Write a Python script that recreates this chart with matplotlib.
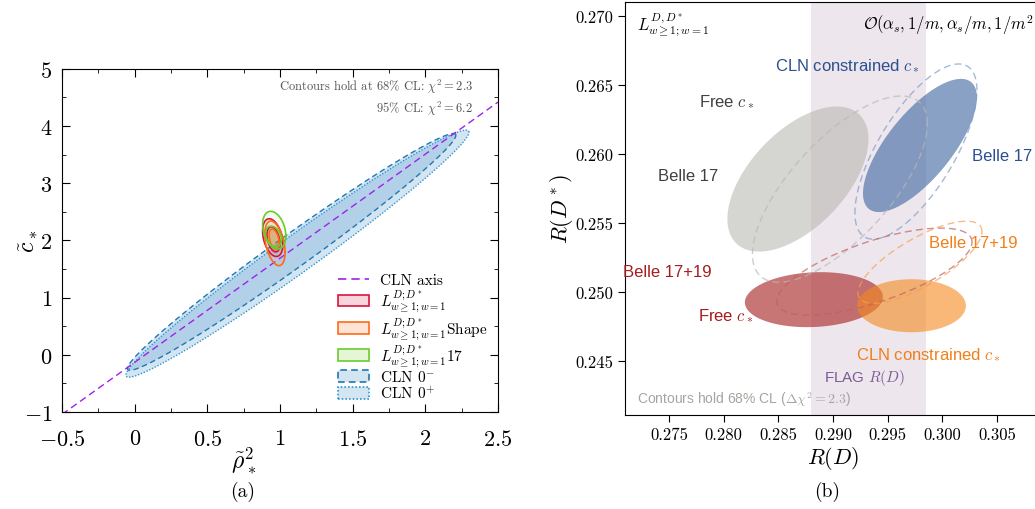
import numpy as np
import matplotlib
matplotlib.use("Agg")
import matplotlib.pyplot as plt
from matplotlib.patches import Patch
from matplotlib.lines import Line2D

plt.rcParams['font.family'] = 'serif'
plt.rcParams['font.serif'] = ['cmr10', 'DejaVu Serif']
plt.rcParams['mathtext.fontset'] = 'cm'
plt.rcParams['axes.formatter.use_mathtext'] = True
plt.rcParams['axes.unicode_minus'] = True

SANS = 'Liberation Sans'

# ---------------- (a) rho^2 - c* plane ----------------
cln_axis_x = [-0.5, 2.5]
cln_axis_y = [-1.04, 4.42]

# CLN 0-, CLN 0+  (centre, half extent in x / y, correlation)
cln_cx = [1.08, 1.12]
cln_cy = [1.80, 1.77]
cln_sx = [1.13, 1.18]
cln_sy = [2.07, 2.16]
cln_rho = [0.985, 0.983]

# fits: L_{w>=1;w=1}, ...Shape, ...17   (68% and 95% contours)
fit_cx_68 = [0.955, 0.960, 0.955]
fit_cy_68 = [2.02, 2.02, 2.07]
fit_sx_68 = [0.045, 0.035, 0.055]
fit_sy_68 = [0.22, 0.18, 0.18]
fit_cx_95 = [0.950, 0.965, 0.960]
fit_cy_95 = [2.05, 1.95, 2.18]
fit_sx_95 = [0.070, 0.070, 0.080]
fit_sy_95 = [0.33, 0.39, 0.33]
fit_rho = [-0.35, -0.40, -0.30]

# ---------------- (b) R(D) - R(D*) plane ----------------
flag_rd = [0.2880, 0.2985]

# filled: Free c* Belle17, CLN c* Belle17, Free c* Belle17+19, CLN c* Belle17+19
fill_cx = [0.28680, 0.29796, 0.28826, 0.29718]
fill_cy = [0.25819, 0.26062, 0.24946, 0.24902]
fill_sx = [0.00645, 0.00521, 0.00631, 0.00498]
fill_sy = [0.00525, 0.00482, 0.00199, 0.00192]
fill_rho = [0.55, 0.72, 0.10, 0.0]

# dashed: gray, blue, red, orange
dash_cx = [0.29064, 0.29759, 0.29380, 0.29796]
dash_cy = [0.25746, 0.26018, 0.25149, 0.25217]
dash_sx = [0.00800, 0.00558, 0.00892, 0.00567]
dash_sy = [0.00674, 0.00634, 0.00315, 0.00297]
dash_rho = [0.70, 0.70, 0.68, 0.75]


def ellipse_xy(cx, cy, sx, sy, rho, n=300):
    t = np.linspace(0, 2 * np.pi, n)
    x = cx + sx * np.cos(t)
    y = cy + sy * (rho * np.cos(t) + np.sqrt(1 - rho ** 2) * np.sin(t))
    return x, y


fig = plt.figure(figsize=(10.35, 5.1), dpi=100)

# ----- left panel -----
ax = fig.add_axes([0.0599, 0.190, 0.4213, 0.673])
cln_fill = '#3f8fc6'
cln_edge = ['#1f77b4', '#2b95d6']
cln_ls = [(0, (4, 2.5)), (0, (1, 1.2))]
for i in range(2):
    x, y = ellipse_xy(cln_cx[i], cln_cy[i], cln_sx[i], cln_sy[i], cln_rho[i])
    ax.fill(x, y, color=cln_fill, alpha=0.225, lw=0, zorder=1)
    ax.plot(x, y, color=cln_edge[i], ls=cln_ls[i], lw=1.0, zorder=2)

ax.plot(cln_axis_x, cln_axis_y, color='#a020f0', ls=(0, (5, 3)), lw=1.0, zorder=3)

fit_col = ['#dc143c', '#ff6a1a', '#6ccc2c']
for i in range(3):
    x, y = ellipse_xy(fit_cx_95[i], fit_cy_95[i], fit_sx_95[i], fit_sy_95[i], fit_rho[i])
    ax.fill(x, y, color=fit_col[i], alpha=0.08, lw=0, zorder=4)
    ax.plot(x, y, color=fit_col[i], lw=1.2, zorder=5)
    x, y = ellipse_xy(fit_cx_68[i], fit_cy_68[i], fit_sx_68[i], fit_sy_68[i], fit_rho[i])
    ax.fill(x, y, color=fit_col[i], alpha=0.18, lw=0, zorder=4)
    ax.plot(x, y, color=fit_col[i], lw=1.2, zorder=5)

ax.set_xlim(-0.5, 2.5)
ax.set_ylim(-1, 5)
ax.set_xticks(np.arange(-0.5, 2.51, 0.5))
ax.set_xticks(np.arange(-0.5, 2.51, 0.25), minor=True)
ax.set_yticks(np.arange(-1, 5.1, 1))
ax.set_yticks(np.arange(-1, 5.1, 0.5), minor=True)
ax.set_xticklabels(['$-0.5$', '$0$', '$0.5$', '$1$', '$1.5$', '$2$', '$2.5$'])
ax.set_yticklabels(['$-1$', '$0$', '$1$', '$2$', '$3$', '$4$', '$5$'])
ax.tick_params(which='both', direction='in', top=True, right=True, labelsize=16)
ax.tick_params(which='major', length=6)
ax.tick_params(which='minor', length=3)
ax.tick_params(axis='x', pad=12)
ax.tick_params(axis='y', pad=7)
ax.set_xlabel(r'$\tilde{\rho}_*^2$', fontsize=17)
ax.set_ylabel(r'$\tilde{c}_*$', fontsize=17)
ax.xaxis.set_label_coords(0.417, -0.096)
ax.yaxis.set_label_coords(-0.05, 0.5)

ax.text(0.943, 0.95, r'Contours hold at 68% CL: $\chi^2 = 2.3$', transform=ax.transAxes,
        ha='right', va='center', fontsize=9, color='#555555')
ax.text(0.943, 0.885, r'95% CL: $\chi^2 = 6.2$', transform=ax.transAxes,
        ha='right', va='center', fontsize=9, color='#555555')

lab = r'$L^{D;D^*}_{w\geq1;w=1}$'
handles = [
    Line2D([], [], color='#a020f0', ls=(0, (5, 3)), lw=1.2),
    Patch(facecolor=(0.86, 0.08, 0.24, 0.18), edgecolor=fit_col[0], lw=1.2),
    Patch(facecolor=(1.0, 0.42, 0.10, 0.18), edgecolor=fit_col[1], lw=1.2),
    Patch(facecolor=(0.42, 0.80, 0.17, 0.18), edgecolor=fit_col[2], lw=1.2),
    Patch(facecolor=(0.25, 0.56, 0.78, 0.225), edgecolor=cln_edge[0], lw=1.2, ls=(0, (4, 2.5))),
    Patch(facecolor=(0.25, 0.56, 0.78, 0.225), edgecolor=cln_edge[1], lw=1.2, ls=(0, (1, 1.2))),
]
labels = ['CLN axis', lab, lab + 'Shape', lab + '17', r'CLN $0^{-}$', r'CLN $0^{+}$']
ax.legend(handles, labels, loc='lower right', frameon=False, fontsize=11,
          labelspacing=0.05, handlelength=2.0, handleheight=0.8, handletextpad=0.7,
          borderaxespad=0.3, bbox_to_anchor=(1.0, 0.0))

# ----- right panel -----
bx = fig.add_axes([0.604, 0.184, 0.4015, 0.810])
bx.axvspan(flag_rd[0], flag_rd[1], color='#8c5a8c', alpha=0.15, lw=0, zorder=0)

fill_col = ['#b4b4ac', '#4a6fa5', '#b03a3a', '#f58a1f']
fill_alpha = [0.55, 0.65, 0.70, 0.60]
for i in range(4):
    x, y = ellipse_xy(fill_cx[i], fill_cy[i], fill_sx[i], fill_sy[i], fill_rho[i])
    bx.fill(x, y, color=fill_col[i], alpha=fill_alpha[i], lw=0, zorder=2)

dash_col = ['#b8b8b8', '#7f9cc8', '#c06060', '#f5a050']
for i in range(4):
    x, y = ellipse_xy(dash_cx[i], dash_cy[i], dash_sx[i], dash_sy[i], dash_rho[i])
    bx.plot(x, y, color=dash_col[i], ls=(0, (5, 3)), lw=1.0, alpha=0.7, zorder=3)

bx.set_xlim(0.271, 0.309)
bx.set_ylim(0.2411, 0.2710)
bx.set_xticks(np.arange(0.275, 0.3051, 0.005))
bx.set_yticks(np.arange(0.245, 0.2701, 0.005))
bx.set_xticklabels(['%.3f' % v for v in np.arange(0.275, 0.3051, 0.005)])
bx.set_yticklabels(['%.3f' % v for v in np.arange(0.245, 0.2701, 0.005)])
bx.tick_params(direction='out', length=5, labelsize=12)
bx.set_xlabel(r'$R(D)$', fontsize=16, labelpad=1)
bx.set_ylabel(r'$R(D^*)$', fontsize=16)
bx.yaxis.set_label_coords(-0.12, 0.5)

blue_t = '#2b4f8f'
gray_t = '#404040'
orng_t = '#f07f1a'
red_t = '#a61c1c'
bx.text(0.29128, 0.26645, r'CLN constrained $c_*$', color=blue_t, fontsize=12,
        family=SANS, ha='center', va='center')
bx.text(0.28030, 0.26384, r'Free $c_*$', color=gray_t, fontsize=12,
        family=SANS, ha='center', va='center')
bx.text(0.27674, 0.25848, 'Belle 17', color=gray_t, fontsize=12,
        family=SANS, ha='center', va='center')
bx.text(0.30546, 0.25986, 'Belle 17', color=blue_t, fontsize=12,
        family=SANS, ha='center', va='center')
bx.text(0.30281, 0.25362, 'Belle 17+19', color=orng_t, fontsize=12,
        family=SANS, ha='center', va='center')
bx.text(0.27482, 0.25152, 'Belle 17+19', color=red_t, fontsize=12,
        family=SANS, ha='center', va='center')
bx.text(0.28021, 0.24841, r'Free $c_*$', color=red_t, fontsize=12,
        family=SANS, ha='center', va='center')
bx.text(0.29869, 0.24558, r'CLN constrained $c_*$', color=orng_t, fontsize=12,
        family=SANS, ha='center', va='center')
bx.text(0.29284, 0.24384, r'FLAG $R(D)$', color='#7d5a96', fontsize=11,
        family=SANS, ha='center', va='center')
bx.text(0.029, 0.041, r'Contours hold 68% CL ($\Delta\chi^2 = 2.3$)', transform=bx.transAxes,
        color='#a5a5a0', fontsize=10, family=SANS, ha='left', va='center')
bx.text(0.029, 0.947, r'$L^{D,D^*}_{w\geq1;w=1}$', transform=bx.transAxes,
        fontsize=12, ha='left', va='center')
bx.text(0.573, 0.947, r'$\mathcal{O}(\alpha_s, 1/m, \alpha_s/m, 1/m^2)$', transform=bx.transAxes,
        fontsize=12, ha='left', va='center')

fig.text(243 / 1035, 1 - 492 / 510, '(a)', fontsize=14, ha='center', va='center')
fig.text(827 / 1035, 1 - 492 / 510, '(b)', fontsize=14, ha='center', va='center')

fig.savefig('out.png', dpi=100)
